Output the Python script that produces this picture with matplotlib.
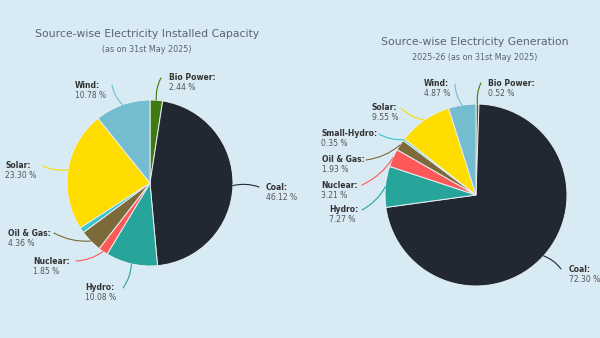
import matplotlib.pyplot as plt
import numpy as np

# installed capacity (share %, clockwise from top)
cap_sources = ['Bio Power', 'Coal', 'Hydro', 'Nuclear', 'Oil & Gas', 'Small-Hydro', 'Solar', 'Wind']
cap_values = [2.44, 46.12, 10.08, 1.85, 4.36, 1.07, 23.30, 10.78]

# generation 2025-26 (share %, clockwise from top)
gen_sources = ['Bio Power', 'Coal', 'Hydro', 'Nuclear', 'Oil & Gas', 'Small-Hydro', 'Solar', 'Wind']
gen_values = [0.52, 72.30, 7.27, 3.21, 1.93, 0.35, 9.55, 4.87]

colors = {'Bio Power': '#3e7a12', 'Coal': '#222831', 'Hydro': '#27a59b', 'Nuclear': '#ff5858',
          'Oil & Gas': '#7d6a3a', 'Small-Hydro': '#3cc3c9', 'Solar': '#ffdd00', 'Wind': '#74bdd0'}

BG = '#d8eaf4'
W, H = 600, 338

# label layout (pixel coords): connector end, left x of text block
cap_layout = {
    'Bio Power': ((161, 78), 169),
    'Coal': ((259, 187), 266),
    'Hydro': ((123, 288), 85),
    'Nuclear': ((76, 261), 33),
    'Oil & Gas': ((54, 233), 8),
    'Solar': ((43, 166), 5),
    'Wind': ((112, 85), 75),
}
gen_layout = {
    'Bio Power': ((481, 83), 488),
    'Coal': ((561, 269), 569),
    'Hydro': ((362, 210), 329),
    'Nuclear': ((362, 185), 321),
    'Oil & Gas': ((366, 160), 322),
    'Small-Hydro': ((379, 134), 321),
    'Solar': ((401, 108), 372),
    'Wind': ((455, 84), 424),
}


def py(y):
    return H - y


def draw_pie(ax, values, sources, center, radius, layout):
    cx, cy = center[0], py(center[1])
    wedges, _ = ax.pie(values, colors=[colors[s] for s in sources], startangle=90,
                       counterclock=False, center=(cx, cy), radius=radius,
                       wedgeprops=dict(edgecolor='#e8eef2', linewidth=0.7))
    for w, src, val in zip(wedges, sources, values):
        if src not in layout:
            continue
        (lx, ly), tx = layout[src]
        ang = np.deg2rad((w.theta1 + w.theta2) / 2)
        ex, ey = cx + radius * np.cos(ang), cy + radius * np.sin(ang)
        ax.annotate('', xy=(ex, ey), xytext=(lx, py(ly)),
                    arrowprops=dict(arrowstyle='-', color=colors[src], lw=0.8,
                                    shrinkA=0, shrinkB=0,
                                    connectionstyle='arc3,rad=0.15'))
        ax.text(tx, py(ly), src + ':', ha='left', va='center', fontsize=5.5,
                fontweight='bold', color='#333333')
        ax.text(tx, py(ly) - 10, '%.2f %%' % val, ha='left', va='center',
                fontsize=5.5, color='#555555')


fig = plt.figure(figsize=(6, 3.38), dpi=100)
fig.patch.set_facecolor(BG)
ax = fig.add_axes([0, 0, 1, 1])
ax.set_facecolor(BG)

draw_pie(ax, cap_values, cap_sources, (150, 183), 83, cap_layout)
draw_pie(ax, gen_values, gen_sources, (476, 195), 91, gen_layout)

ax.text(147, py(34), 'Source-wise Electricity Installed Capacity', ha='center', va='center',
        fontsize=7.8, color='#5a6470')
ax.text(147, py(50), '(as on 31st May 2025)', ha='center', va='center',
        fontsize=5.8, color='#5a6470')
ax.text(475, py(42), 'Source-wise Electricity Generation', ha='center', va='center',
        fontsize=7.8, color='#5a6470')
ax.text(475, py(57), '2025-26 (as on 31st May 2025)', ha='center', va='center',
        fontsize=5.8, color='#5a6470')

ax.set_xlim(0, W)
ax.set_ylim(0, H)
ax.set_aspect('equal')
ax.axis('off')

fig.savefig('out.png', dpi=100, facecolor=BG)
